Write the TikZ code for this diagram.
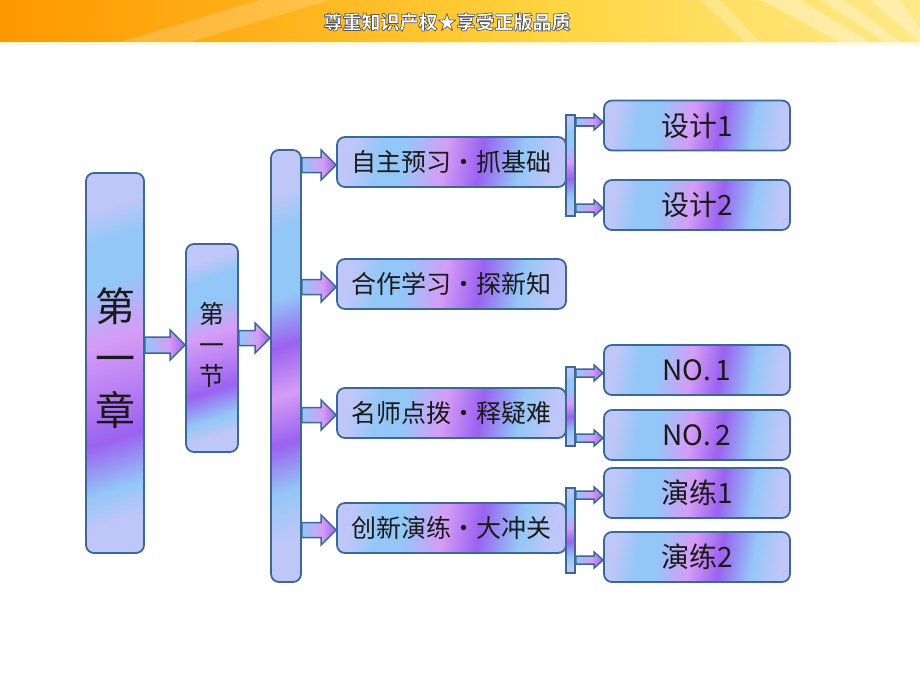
\documentclass[tikz,border=0pt]{standalone}
\usepackage{fontspec}
\setmainfont{Noto Sans CJK SC}
\usetikzlibrary{calc}
\definecolor{lv}{HTML}{BFC6F8}
\definecolor{lb}{HTML}{93C7F7}
\definecolor{pk}{HTML}{D59CF6}
\definecolor{vi}{HTML}{9A62F0}
\definecolor{bd}{HTML}{3C6894}
\definecolor{oA}{HTML}{FF9800}
\definecolor{oB}{HTML}{FFB21C}
\definecolor{oC}{HTML}{FFD540}
\definecolor{oD}{HTML}{FFE98A}
\definecolor{tx}{HTML}{1A1A1A}
% only the range 25bp..75bp (plus a little when rotated) is visible
\pgfdeclarehorizontalshading{boxsh}{100bp}{color(0bp)=(lv); color(25bp)=(lv); color(32bp)=(lb); color(38bp)=(lb); color(48bp)=(pk); color(57bp)=(vi); color(67bp)=(lb); color(75bp)=(lv); color(100bp)=(lv)}
\pgfdeclarehorizontalshading{tallsh}{100bp}{color(0bp)=(lv); color(25bp)=(lv); color(30bp)=(lb); color(37bp)=(lb); color(46bp)=(pk); color(53bp)=(pk!60!vi); color(62bp)=(vi); color(70bp)=(lb); color(75bp)=(lv); color(100bp)=(lv)}
\pgfdeclarehorizontalshading{barsh}{100bp}{color(0bp)=(lv); color(25bp)=(lv); color(30bp)=(lb); color(40bp)=(lb); color(47bp)=(vi); color(54bp)=(pk); color(61bp)=(vi); color(68bp)=(lb); color(75bp)=(lv); color(100bp)=(lv)}
\pgfdeclarehorizontalshading{arrsh}{100bp}{color(0bp)=(lb); color(25bp)=(lb); color(55bp)=(pk); color(75bp)=(vi); color(100bp)=(vi)}
\pgfdeclarehorizontalshading{bannersh}{100bp}{color(0bp)=(oA); color(25bp)=(oA); color(40bp)=(oB); color(55bp)=(oC); color(75bp)=(oD); color(100bp)=(oD)}
\newcommand\fatarrow[6]{%
  \path[arr] let \p1=(#1.east), \p2=(#2.west) in
    (\x1,#3-#4) -- (\x2-#6pt,#3-#4) -- (\x2-#6pt,#3-#5) -- (\x2,#3)
    -- (\x2-#6pt,#3+#5) -- (\x2-#6pt,#3+#4) -- (\x1,#3+#4) -- cycle;}
\begin{document}
\begin{tikzpicture}[x=1pt,y=-1pt,
  box/.style={draw=bd, line width=1.8pt, rounded corners=8pt, shade, shading=boxsh,
    shading angle=-10, inner sep=0pt, text=tx},
  tallbox/.style={box, shading=tallsh, shading angle=-72},
  mbox/.style={box, minimum width=229pt, minimum height=50pt, font=\fontsize{25}{29}\selectfont},
  rbox/.style={box, minimum width=186pt, minimum height=50pt, font=\fontsize{28}{32}\selectfont},
  bbar/.style={draw=bd, line width=1.5pt, shade, shading=boxsh, shading angle=-84,
    minimum width=9pt, inner sep=0pt},
  arr/.style={draw=bd, line width=1.5pt, shade, shading=arrsh, line join=miter}]
\useasboundingbox (0,0) rectangle (920,690);
\fill[white] (0,0) rectangle (920,690);
% banner
\shade[shading=bannersh] (0,0) rectangle (920,42);
\fill[white, opacity=0.18] (120,42) -- (260,0) -- (330,0) -- (190,42) -- cycle;
\fill[white, opacity=0.35] (760,0) -- (800,0) -- (870,42) -- (840,42) -- cycle;
\fill[white, opacity=0.3] (820,0) -- (845,0) -- (900,42) -- (885,42) -- cycle;
\fill[white, opacity=0.25] (700,0) -- (720,0) -- (760,42) -- (745,42) -- cycle;
\fill[white, opacity=0.3] (870,0) -- (900,0) -- (920,30) -- (920,42) -- cycle;
\fill[oD!30!white] (0,42) rectangle (920,45);
\node[font=\bfseries\fontsize{19}{19}\selectfont, text=white] (ban) at (447,22)
  {\special{pdf:literal direct 0.35 G 2 Tr 0.7 w}尊重知识产权★享受正版品质\special{pdf:literal direct 0 Tr}};
% main boxes
\node[tallbox, minimum width=58pt, minimum height=380pt] (ch) at (115,363)
  {\fontsize{40}{52}\selectfont\raisebox{14pt}{\begin{tabular}{@{}c@{}}第\\一\\章\end{tabular}}};
\node[tallbox, minimum width=52pt, minimum height=208pt] (jie) at (212,348)
  {\fontsize{25}{31}\selectfont\begin{tabular}{@{}c@{}}第\\一\\节\end{tabular}};
\node[tallbox, shading=barsh, minimum width=30pt, minimum height=432pt] (bar) at (286,366) {};
% middle boxes
\node[mbox] (m1) at (451.5,162) {自主预习・抓基础};
\node[mbox] (m2) at (451.5,284) {合作学习・探新知};
\node[mbox] (m3) at (451.5,413) {名师点拨・释疑难};
\node[mbox] (m4) at (451.5,528) {创新演练・大冲关};
% right boxes
\node[rbox] (d1) at (697,125.5) {设计1};
\node[rbox] (d2) at (697,205) {设计2};
\node[rbox] (n1) at (697,370) {NO.\,1};
\node[rbox] (n2) at (697,435) {NO.\,2};
\node[rbox] (y1) at (697,493) {演练1};
\node[rbox] (y2) at (697,557) {演练2};
% bracket bars
\node[bbar, minimum height=101pt] (k1) at (570.5,165.5) {};
\node[bbar, minimum height=79pt] (k2) at (570.5,406.5) {};
\node[bbar, minimum height=85pt] (k3) at (570.5,530.5) {};
% arrows
\fatarrow{ch}{jie}{345}{8}{15}{15}
\fatarrow{jie}{bar}{338}{7.5}{15}{15}
\fatarrow{bar}{m1}{165}{7.5}{15}{15}
\fatarrow{bar}{m2}{287}{7.5}{15}{15}
\fatarrow{bar}{m3}{415}{7.5}{15}{15}
\fatarrow{bar}{m4}{530}{7.5}{15}{15}
\fatarrow{k1}{d1}{122}{4}{8}{9}
\fatarrow{k1}{d2}{208}{4}{8}{9}
\fatarrow{k2}{n1}{373}{4}{8}{9}
\fatarrow{k2}{n2}{438}{4}{8}{9}
\fatarrow{k3}{y1}{495}{4}{8}{9}
\fatarrow{k3}{y2}{560}{4}{8}{9}
\end{tikzpicture}
\end{document}
